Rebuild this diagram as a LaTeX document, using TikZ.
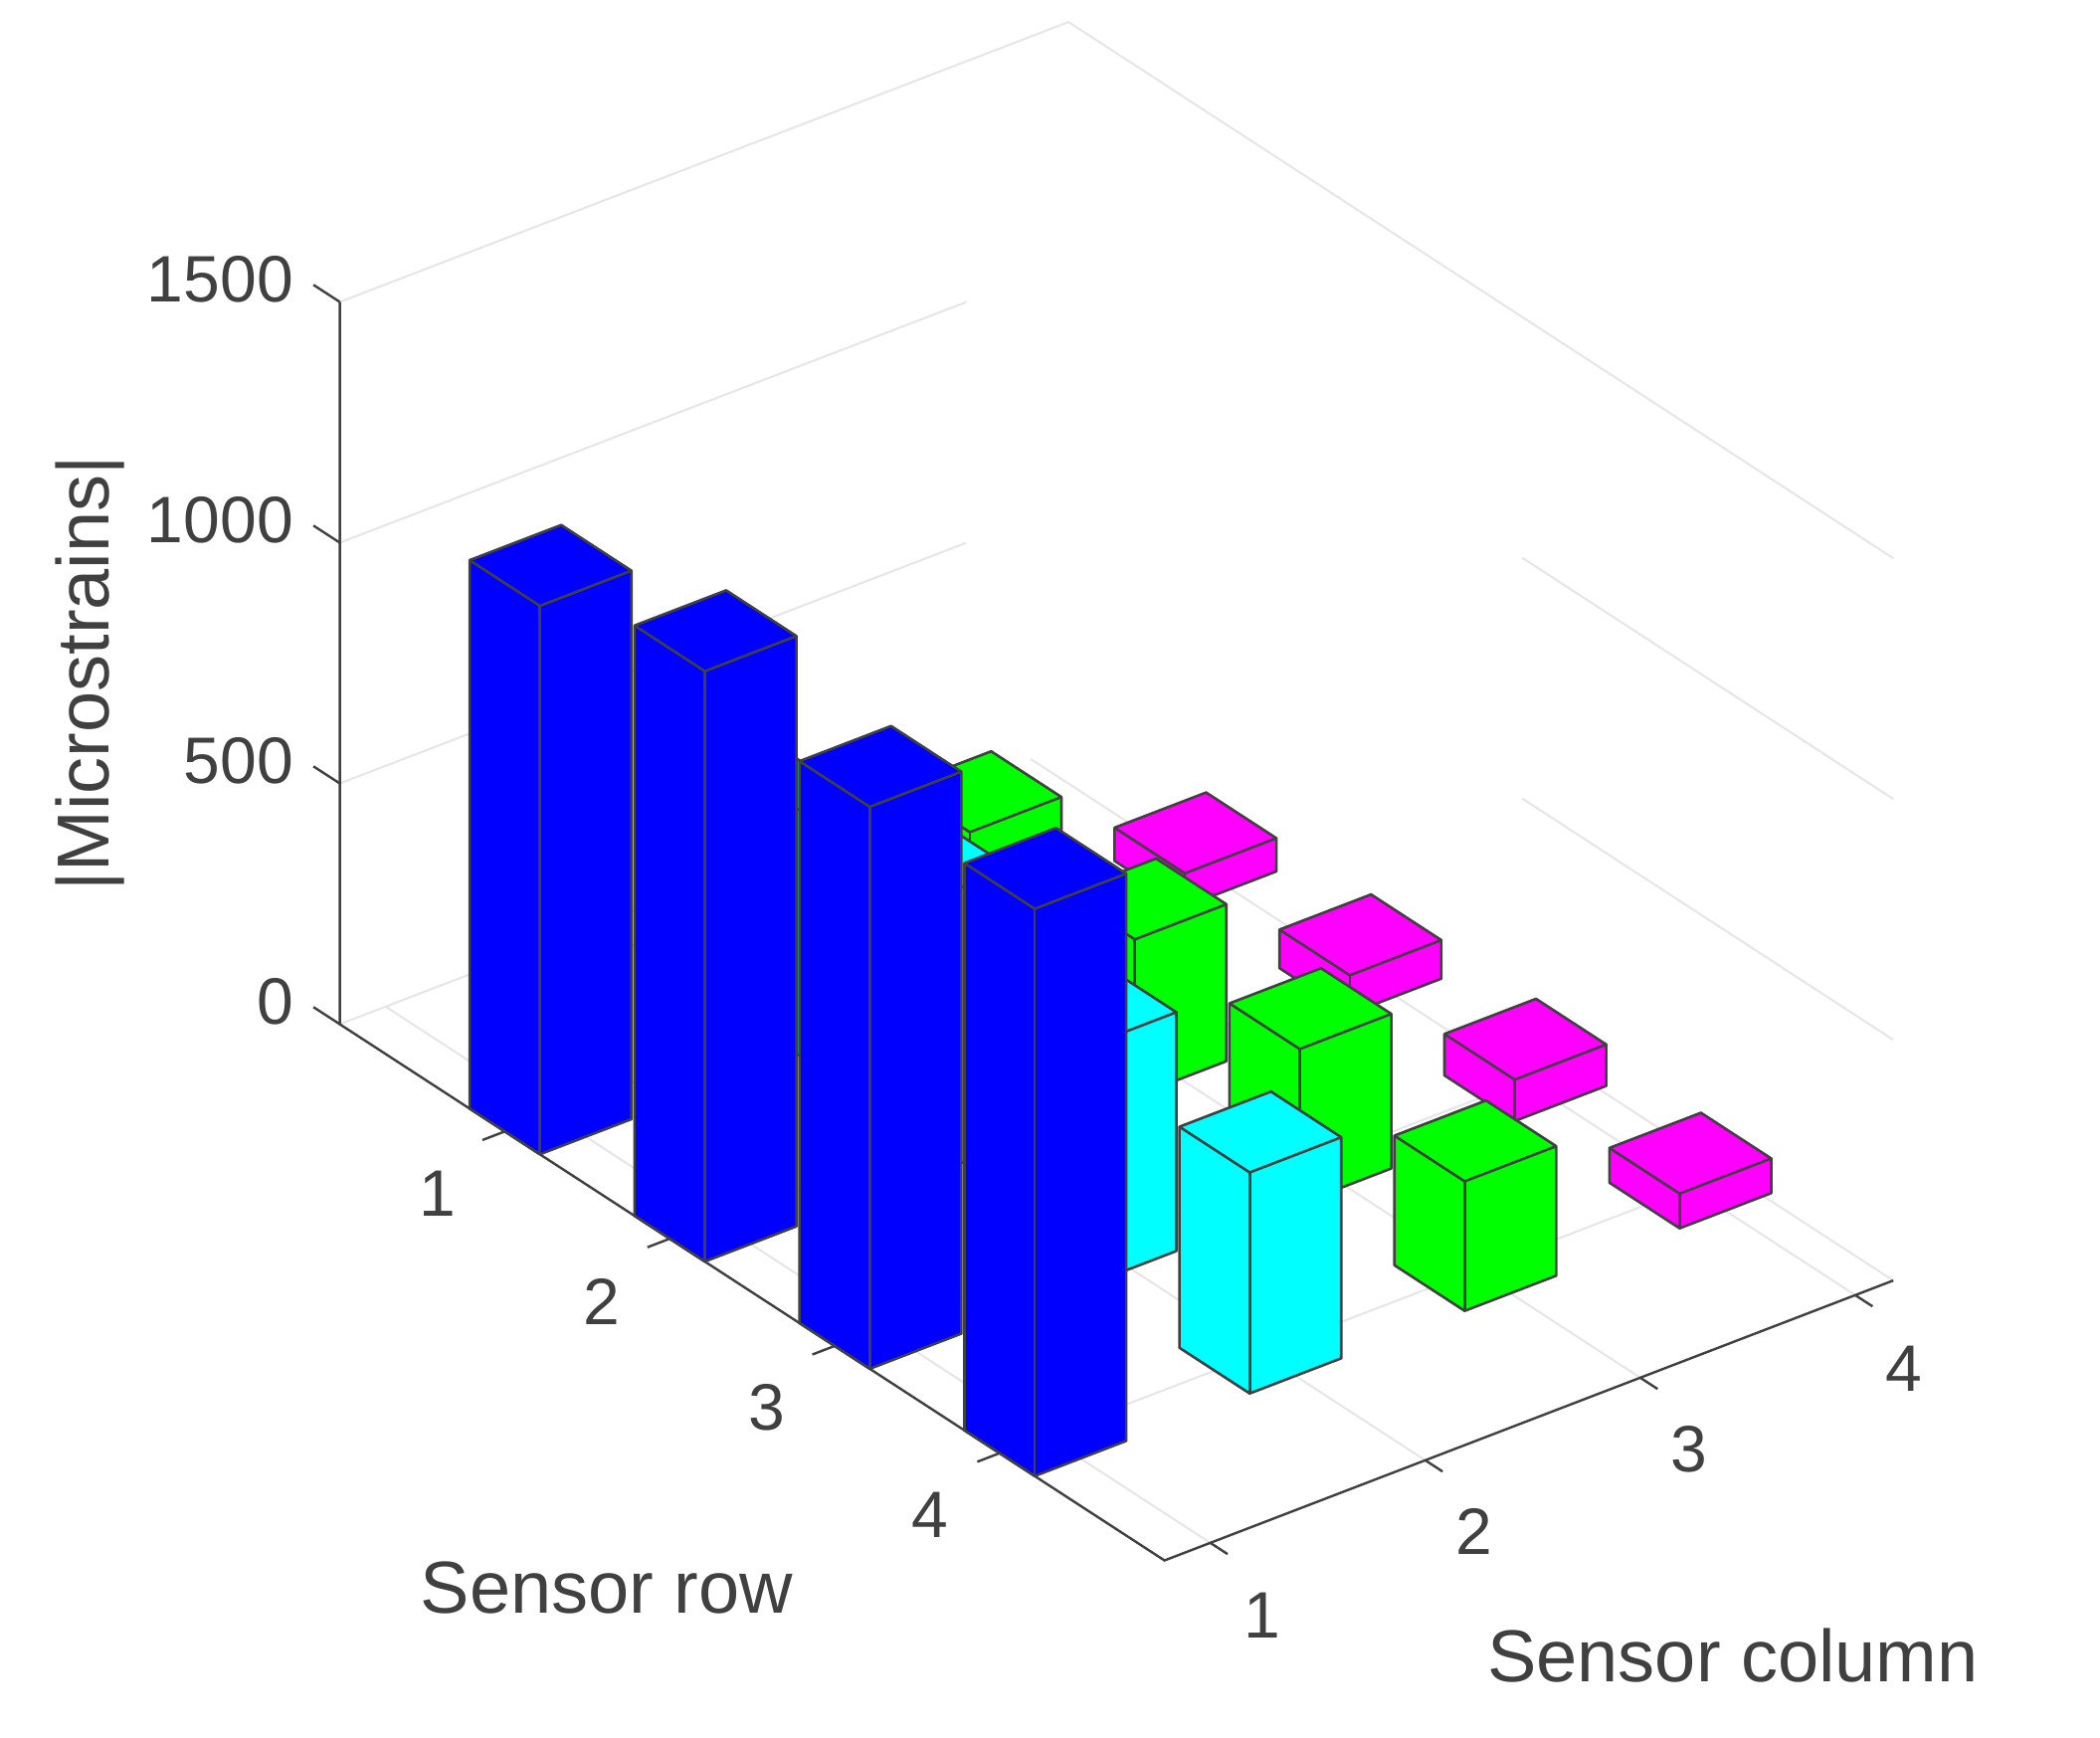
\documentclass[tikz,border=0pt]{standalone}
\usepackage{fontspec}
\setmainfont{Liberation Sans}
\definecolor{axc}{HTML}{404040}
\definecolor{grc}{HTML}{E6E6E6}
\definecolor{cblue}{RGB}{0,0,255}
\definecolor{ccyan}{RGB}{0,255,255}
\definecolor{cgreen}{RGB}{0,255,0}
\definecolor{cmag}{RGB}{255,0,255}
\newcommand\pt[3]{({341.6+165.8*(#1)+216.1*((#2)-0.787)},{1029.5+107.8*(#1)-83*((#2)-0.787)-0.484*(#3)})}
\newcommand\mybar[4]{%
  \fill[#4] \pt{#1-0.213}{#2-0.213}{0} -- \pt{#1+0.213}{#2-0.213}{0} -- \pt{#1+0.213}{#2+0.213}{0} -- \pt{#1+0.213}{#2+0.213}{#3} -- \pt{#1-0.213}{#2+0.213}{#3} -- \pt{#1-0.213}{#2-0.213}{#3} -- cycle;
  \draw[baredge] \pt{#1-0.213}{#2-0.213}{0} -- \pt{#1+0.213}{#2-0.213}{0} -- \pt{#1+0.213}{#2+0.213}{0} -- \pt{#1+0.213}{#2+0.213}{#3} -- \pt{#1-0.213}{#2+0.213}{#3} -- \pt{#1-0.213}{#2-0.213}{#3} -- cycle;
  \draw[baredge] \pt{#1-0.213}{#2-0.213}{#3} -- \pt{#1+0.213}{#2-0.213}{#3} -- \pt{#1+0.213}{#2+0.213}{#3};
  \draw[baredge] \pt{#1+0.213}{#2-0.213}{#3} -- \pt{#1+0.213}{#2-0.213}{0};
}
\tikzset{
  baredge/.style={draw=axc,line width=2.6pt,line join=round},
  grid/.style={draw=grc,line width=2pt},
  axline/.style={draw=axc,line width=2.4pt},
  ticklab/.style={text=axc,font=\fontsize{66}{70}\selectfont,inner sep=0pt},
  axlab/.style={text=axc,font=\fontsize{74}{78}\selectfont,inner sep=0pt}
}
\begin{document}
\begin{tikzpicture}[x=1pt,y=-1pt]
\useasboundingbox[fill=white] (0,0) rectangle (2111,1746);
% wall gridlines
\draw[grid] \pt{0}{0.787}{1500} -- \pt{0}{4.177}{1500} -- \pt{5}{4.177}{1500};
\foreach \z in {0,500,1000}{
  \draw[grid] \pt{0}{0.787}{\z} -- \pt{0}{3.70}{\z};
  \draw[grid] \pt{2.75}{4.177}{\z} -- \pt{5}{4.177}{\z};
}
% floor gridlines
\foreach \r in {1,2,3,4}{\draw[grid] \pt{\r}{0.787}{0} -- \pt{\r}{4.177}{0};}
\foreach \c in {1,2,3,4}{\draw[grid] \pt{0}{\c}{0} -- \pt{5}{\c}{0};}
% bars, back to front
\mybar{1}{4}{69}{cmag}
\mybar{1}{3}{326}{cgreen}
\mybar{2}{4}{80}{cmag}
\mybar{1}{2}{510}{ccyan}
\mybar{2}{3}{326}{cgreen}
\mybar{3}{4}{86}{cmag}
\mybar{1}{1}{1139}{cblue}
\mybar{2}{2}{572}{ccyan}
\mybar{3}{3}{321}{cgreen}
\mybar{4}{4}{72}{cmag}
\mybar{2}{1}{1226}{cblue}
\mybar{3}{2}{496}{ccyan}
\mybar{4}{3}{269}{cgreen}
\mybar{3}{1}{1167}{cblue}
\mybar{4}{2}{459}{ccyan}
\mybar{4}{1}{1178}{cblue}
% axes
\draw[axline] \pt{0}{0.787}{1500} -- \pt{0}{0.787}{0} -- \pt{5}{0.787}{0} -- \pt{5}{4.177}{0};
\foreach \z in {0,500,1000,1500}{
  \draw[axline] \pt{0}{0.787}{\z} -- ++(-26.5,-17.2);
}
\foreach \r in {1,2,3,4}{\draw[axline] \pt{\r}{0.787}{0} -- ++(-22.4,8.6);}
\foreach \c in {1,2,3,4}{\draw[axline] \pt{5}{\c}{0} -- ++(17.4,11.3);}
% z labels
\node[ticklab,anchor=east] (z0) at (295,1007) {0};
\node[ticklab,anchor=east] (z500) at (295,765) {500};
\node[ticklab,anchor=east] (z1000) at (295,523) {1000};
\node[ticklab,anchor=east] (z1500) at (295,281) {1500};
% row labels
\node[ticklab] (r1) at (440,1200) {1};
\node[ticklab] (r2) at (605,1308) {2};
\node[ticklab] (r3) at (771,1415) {3};
\node[ticklab] (r4) at (935,1523) {4};
% column labels
\node[ticklab] (c1) at (1269,1624) {1};
\node[ticklab] (c2) at (1482,1539) {2};
\node[ticklab] (c3) at (1698,1457) {3};
\node[ticklab] (c4) at (1914,1376) {4};
% axis labels
\node[axlab,rotate=90] (zl) at (91,677) {|Microstrains|};
\node[axlab] (rl) at (610,1596) {Sensor row};
\node[axlab] (cl) at (1742,1664) {Sensor column};
\end{tikzpicture}
\end{document}
